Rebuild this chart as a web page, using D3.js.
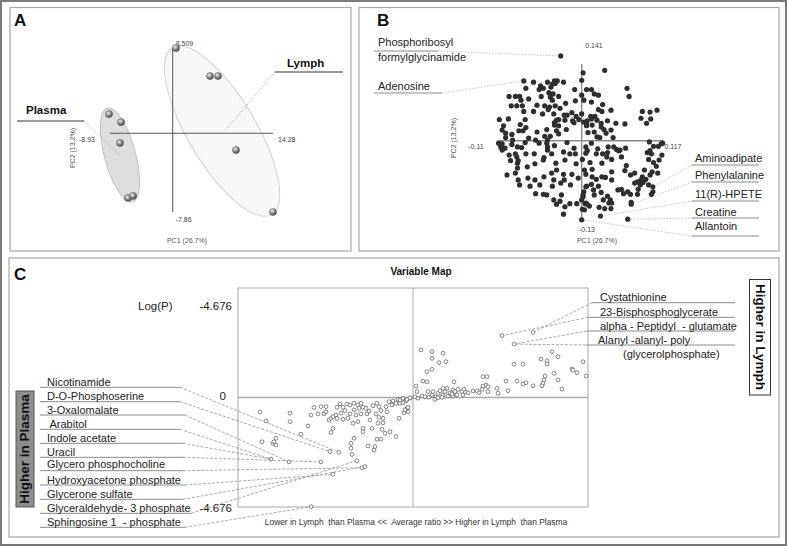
<!DOCTYPE html>
<html><head><meta charset="utf-8">
<script src="https://cdn.jsdelivr.net/npm/d3@7"></script>
<style>body{margin:0;background:#fff} svg{display:block} text{font-family:Arial,'Liberation Sans',sans-serif;white-space:pre}</style>
</head><body><svg id="c" width="787" height="546"></svg>
<script>
// ---------- Panel A : PCA scores ----------
const pcaGroup = ['Plasma','Plasma','Plasma','Plasma','Plasma','Lymph','Lymph','Lymph','Lymph','Lymph'];
const pcaPC1 = [-9.07,-7.36,-7.51,-6.37,-5.65,0.47,5.31,6.45,9.01,14.28];
const pcaPC2 = [1.92,1.12,-0.97,-6.46,-6.26,8.51,5.71,5.71,-1.67,-7.86];
const pc1Range = [-8.93, 14.28];
const pc2Range = [-7.86, 8.509];
const groupNames = ['Plasma','Lymph'];
const groupCentrePC1 = [-7.51, 7.02];
const groupCentrePC2 = [-2.17, 0.22];

// ---------- Panel B : loadings (x1000) ----------
const loadRangeX = [-119.5, 117];
const loadRangeY = [-130, 123];
const loadTickText = ['0.141','-0.11','0.117','-0.13'];
const loadings = [
[-30,136],[33,113],[2,109],[0,97],
[-83,96],[-69,94],[-49,94],[-39,96],[-35,96],[-26,94],
[-59,88],[-42,91],[-38,92],
[-80,84],[-61,82],[-55,84],[-44,86],[-10,82],[7,82],[14,82],[65,84],
[-47,77],[-41,75],
[-104,71],[-95,71],[-89,71],[-76,67],[-58,71],[-45,70],[-33,71],[0,73],[18,75],[24,73],[68,71],
[-87,65],[-42,65],
[-101,56],[-93,56],[-85,56],[-64,57],[-53,56],[-38,56],[-46,54],[-23,60],[-9,64],[3,65],[14,62],
[-48,50],[-31,52],[30,58],[42,49],
[-83,47],[-69,47],[-21,41],[-14,45],[24,50],[29,47],[87,47],[98,46],[108,49],
[-56,43],[-40,43],[-25,41],[-8,39],[0,43],[13,39],[19,39],[85,36],[99,35],
[-118,34],[-105,35],[-81,34],[-36,33],[-33,34],[-24,33],[-13,32],[-4,34],[8,32],[14,35],[22,33],[37,32],
[-39,29],[-11,29],[3,30],[7,27],[28,28],[49,28],[62,27],[93,28],
[-112,24],[-88,26],[-80,21],[-39,25],[-33,24],[7,24],[15,25],[28,22],[32,18],[42,17],
[-114,17],[-90,16],[-84,16],[-64,14],[-50,18],[-36,16],[-22,18],[9,13],[18,14],[22,6],
[-109,12],[-100,10],[-45,7],[-33,11],[35,12],[45,5],
[-109,5],[-99,1],[-76,4],[-66,1],[-53,7],[-49,1],[26,5],[97,-2],[114,-5],[110,-9],
[-119,-4],[-114,-5],[-100,-6],[-92,-10],[-81,-3],[-61,-4],[-50,-4],[-39,-8],[-21,-3],[14,-4],[38,-10],[46,-10],[53,-16],[63,-12],[103,-9],[116,-4],
[-116,-10],[-110,-12],[-86,-11],[-49,-10],[-11,-12],[6,-10],[8,-16],[23,-13],[50,-14],[55,-15],
[-114,-15],[-49,-15],[-26,-18],[37,-19],[98,-16],
[-104,-23],[-95,-21],[-80,-21],[-68,-21],[-43,-21],[-17,-21],[-9,-21],[6,-20],[21,-21],[30,-21],[36,-26],[94,-19],[100,-21],[115,-23],
[-102,-32],[-93,-26],[-91,-32],[-54,-27],[-24,-31],[1,-30],[43,-30],[57,-26],[111,-31],[103,-35],[96,-30],
[-92,-36],[-67,-37],[-55,-31],[-37,-36],[-8,-37],[12,-35],[29,-36],[64,-40],[107,-41],
[-92,-44],[-78,-42],[-43,-52],[-26,-54],[4,-47],[15,-46],[62,-48],[90,-47],[101,-50],
[-95,-52],[-36,-47],[-14,-54],[6,-54],[43,-50],[76,-52],
[-107,-55],[-77,-60],[-67,-63],[-54,-58],[-40,-63],[-25,-63],[15,-58],[29,-58],[34,-59],[70,-55],[98,-55],[109,-52],[87,-58],[85,-63],[92,-62],[80,-66],
[-91,-63],[-5,-60],[21,-62],[43,-63],
[-89,-71],[-74,-73],[-60,-71],[-42,-73],[-30,-68],[-16,-71],[7,-73],[14,-70],[24,-73],[76,-68],[84,-71],[88,-67],[96,-71],[102,-74],
[-66,-85],[-55,-86],[-29,-87],[3,-82],[6,-74],[2,-90],[17,-79],[28,-83],[52,-79],[57,-78],[66,-82],[81,-78],[80,-86],[102,-82],[100,-86],
[-50,-87],[-40,-95],[-31,-97],[-17,-101],[0,-95],[2,-87],[6,-100],[11,-105],[18,-87],[37,-89],[41,-95],[60,-85],[43,-100],[70,-86],
[-36,-102],[-24,-106],[-7,-101],[5,-101],[8,-102],[31,-95],[39,-100],[71,-99],[71,-102],
[-26,-118],[25,-107],[33,-109],[42,-109],[4,-111],[1,-110],
[27,-121],[66,-126],
[0,-127]
];
const loadLabelNames = [['Phosphoribosyl','formylglycinamide'],['Adenosine'],['Aminoadipate'],['Phenylalanine'],['11(R)-HPETE'],['Creatine'],['Allantoin']];
const loadLabelTargets = [[-30,136],[-83,96],[102,-74],[71,-102],[27,-121],[66,-126],[0,-127]];

// ---------- Panel C : variable map ----------
const vmRatioRange = [-175, 175];
const vmLogPRange = [-4.676, 4.676];
const vmTickText = ['-4.676','0','-4.676'];
const vmPoints = [
[-153,-0.62],[-147,-1.00],[-123,-0.67],[-123,-1.03],[-105,-1.22],[-112,-1.57],
[-151,-1.89],[-140,-1.96],[-139,-1.89],[-137,-1.74],[-137,-2.03],
[-142,-2.63],[-124,-2.75],[-92,-2.75],
[-102,-0.75],[-99,-0.42],[-92,-0.39],[-87,-0.39],[-95,-0.70],[-89,-0.70],[-87,-0.61],
[-84,-0.96],[-82,-0.89],[-80,-0.82],[-77,-0.75],[-76,-0.42],[-73,-0.28],[-70,-0.42],[-66,-0.28],[-68,-0.56],[-72,-0.67],[-76,-0.89],[-70,-0.93],[-65,-0.89],[-60,-1.10],[-80,-1.32],[-82,-1.49],[-83,-2.31],[-74,-2.34],
[-63,-0.32],[-59,-0.25],[-55,-0.32],[-52,-0.25],[-54,-0.46],[-50,-0.42],[-59,-0.53],[-63,-0.70],[-57,-0.75],[-52,-0.70],[-55,-1.03],[-50,-1.32],[-50,-1.46],[-41,-1.32],[-43,-0.96],[-46,-0.70],[-44,-0.58],[-47,-0.46],[-40,-0.35],[-36,-0.25],[-34,-0.39],[-32,-0.56],[-37,-0.70],[-34,-0.85],[-30,-0.89],[-35,-1.10],[-30,-1.08],[-31,-1.36],[-23,-1.46],[-17,-1.67],[-28,-1.53],[-26,-0.61],[-27,-0.39],[-24,-0.18],[-20,-0.15],[-17,-0.25],[-15,-0.08],[-11,-0.11],[-13,-0.25],[-10,-0.22],[-7,-0.14],[-3,-0.03],[-6,-0.46],[-9,-0.65],[-14,-0.89],[-5,-0.61],[-21,-0.32],
[-59,-1.74],[-62,-1.96],[-62,-2.17],[-61,-2.43],[-56,-2.70],[-36,-1.78],[-32,-1.78],[-38,-2.10],[-39,-2.24],[-45,-2.07],[-51,-3.00],[-48,-2.95],[-80,-3.28],[-102,-4.66],
[89,2.64],[120,2.78],[101,2.28],[8,2.03],[19,1.96],[30,1.89],[19,1.67],[26,1.49],[33,1.53],[14,1.10],[19,1.20],[10,0.70],[14,0.67],[41,0.67],[3,0.49],[4,0.25],[70,0.89],[74,0.89],[101,1.42],[110,1.42],[128,1.64],[134,1.57],[134,1.43],[139,1.96],[145,1.74],[170,1.53],[159,1.22],[160,1.17],[164,1.06],[132,0.92],[131,0.75],[130,0.61],[141,1.03],[145,0.75],[129,0.50],[93,0.70],[104,0.70],[110,0.58],[113,0.63],[120,0.50],[95,0.29],[149,0.36],[173,0.92],[84,0.39],[85,0.18],[73,0.53],[75,0.46],[69,0.35],[70,0.49],[64,0.29],[66,0.20],[75,0.25],[60,0.28],[55,0.20],[52,0.25],
[2,0.03],[5,-0.03],[9,0.06],[12,0.03],[15,0.25],[19,0.11],[20,0.25],[23,0.03],[25,0.18],[27,0.29],[30,0.11],[32,0.25],[34,0.39],[35,0.06],[37,0.20],[40,0.32],[42,0.25],[44,0.11],[45,0.35],[49,0.25],[51,0.35],[50,0.11],[40,0.06],[29,0.01],[22,-0.08],[16,0.01],[30,0.39],[25,-0.01],[39,0.15],
[-13,-0.11],[-10,-0.03],[-6,-0.08],[-3,-0.01],[-5,-0.42],[-8,-0.53]
];
const plasmaNames = ['Nicotinamide','D-O-Phosphoserine','3-Oxalomalate',' Arabitol','Indole acetate','Uracil','Glycero phosphocholine','Hydroxyacetone phosphate','Glycerone sulfate','Glyceraldehyde- 3 phosphate','Sphingosine 1  - phosphate'];
const plasmaTargets = [[-74,-2.34],[-83,-2.31],[-124,-2.75],[-142,-2.63],[-142,-2.63],[-92,-2.75],[-51,-3.00],[-80,-3.28],[-48,-2.95],[-56,-2.70],[-102,-4.66]];
const lymphNames = ['Cystathionine','23-Bisphosphoglycerate','alpha - Peptidyl  - glutamate','Alanyl -alanyl- poly'];
const lymphTargets = [[120,2.78],[89,2.64],[101,2.28],[101,2.28]];

// ================= drawing =================
const svg = d3.select('#c');
svg.append('rect').attr('x',1).attr('y',1).attr('width',785).attr('height',544).attr('fill','#fff').attr('stroke','#7a7a7a').attr('stroke-width',2);
[[10,7.5,341,243.5],[359,7.5,420,243.5],[9,258,770,279]].forEach(b=>{
  svg.append('rect').attr('x',b[0]).attr('y',b[1]).attr('width',b[2]).attr('height',b[3]).attr('fill','none').attr('stroke','#a8a8a8').attr('stroke-width',1.2);
});
function txt(g,x,y,s,o={}){
  const t=g.append('text').attr('x',x).attr('y',y).text(s).attr('font-size',o.size||11)
   .attr('fill',o.fill||'#222').attr('dominant-baseline','middle').attr('text-anchor',o.anchor||'start');
  if(o.bold) t.attr('font-weight','bold');
  if(o.rotate!=null) t.attr('transform',`rotate(${o.rotate},${x},${y})`);
  return t;
}
txt(svg,14,22,'A',{size:17,bold:true,fill:'#111'});
txt(svg,377,22,'B',{size:17,bold:true,fill:'#111'});
txt(svg,14,276,'C',{size:17,bold:true,fill:'#111'});

// ----- Panel A -----
const gA = svg.append('g');
const xA = d3.scaleLinear().domain(pc1Range).range([110,273]);
const yA = d3.scaleLinear().domain(pc2Range).range([212,48]);
const defs = svg.append('defs');
const rg = defs.append('radialGradient').attr('id','ball').attr('cx','38%').attr('cy','35%').attr('r','65%');
rg.append('stop').attr('offset','0%').attr('stop-color','#eeeeee');
rg.append('stop').attr('offset','55%').attr('stop-color','#8c8c8c');
rg.append('stop').attr('offset','100%').attr('stop-color','#4a4a4a');
const ellStyle = {Plasma:{rx:15.5,ry:48.5,rot:-15,fill:'#dedede',stroke:'#c0c0c0'}, Lymph:{rx:34,ry:97,rot:-30.8,fill:'#f8f8f8',stroke:'#d2d2d2'}};
groupNames.forEach((g,i)=>{
  const s=ellStyle[g], cx=xA(groupCentrePC1[i]), cy=yA(groupCentrePC2[i]);
  gA.append('ellipse').attr('cx',0).attr('cy',0).attr('rx',s.rx).attr('ry',s.ry)
    .attr('transform',`translate(${cx},${cy}) rotate(${s.rot})`)
    .attr('fill',s.fill).attr('stroke',s.stroke).attr('stroke-width',1);
});
gA.append('line').attr('x1',xA(0)).attr('x2',xA(0)).attr('y1',yA(pc2Range[0])).attr('y2',yA(pc2Range[1])).attr('stroke','#555').attr('stroke-width',1);
gA.append('line').attr('x1',xA(pc1Range[0])).attr('x2',xA(pc1Range[1])).attr('y1',yA(0)).attr('y2',yA(0)).attr('stroke','#555').attr('stroke-width',1);
txt(gA,xA(0)+3,yA(pc2Range[1])-4,String(pc2Range[1]),{size:7,fill:'#444'});
txt(gA,xA(0)+3,yA(pc2Range[0])+8,String(pc2Range[0]),{size:7,fill:'#444'});
txt(gA,xA(pc1Range[0])-15,yA(0)+7,String(pc1Range[0]),{size:7,fill:'#444',anchor:'end'});
txt(gA,xA(pc1Range[1])+5,yA(0)+7,String(pc1Range[1]),{size:7,fill:'#444'});
txt(gA,187,241,'PC1 (26.7%)',{size:7,fill:'#555',anchor:'middle'});
txt(gA,73,148,'PC2 (13.2%)',{size:7,fill:'#555',anchor:'middle',rotate:-90});
const aLab = {Plasma:{tx:26,ty:111,l1:17,l2:84,ly:121}, Lymph:{tx:287,ty:64,l1:275,l2:343,ly:72}};
groupNames.forEach((g,i)=>{
  const L=aLab[g];
  gA.append('line').attr('x1',L.l1).attr('x2',L.l2).attr('y1',L.ly).attr('y2',L.ly).attr('stroke','#9a9a9a').attr('stroke-width',2);
  const sx = g==='Plasma'?L.l2:L.l1;
  gA.append('line').attr('x1',sx).attr('y1',L.ly).attr('x2',xA(groupCentrePC1[i])+(g==='Lymph'?3:1)).attr('y2',yA(groupCentrePC2[i])+(g==='Lymph'?0:1))
    .attr('stroke','#999').attr('stroke-width',0.7).attr('stroke-dasharray','1.5,1.5');
  txt(gA,L.tx,L.ty,g,{size:11.5,bold:true,fill:'#111'});
});
gA.selectAll('circle.s').data(pcaPC1).join('circle').attr('class','s')
  .attr('cx',(d)=>xA(d)).attr('cy',(d,i)=>yA(pcaPC2[i])).attr('r',3.6)
  .attr('fill','url(#ball)').attr('stroke','#555').attr('stroke-width',0.4);

// ----- Panel B -----
const gB = svg.append('g');
const xB = d3.scaleLinear().domain(loadRangeX).range([498.3,663.3]);
const yB = d3.scaleLinear().domain([-130,0]).range([221.7,140.7]);
gB.append('line').attr('x1',xB(0)).attr('x2',xB(0)).attr('y1',yB(loadRangeY[0])).attr('y2',yB(loadRangeY[1])).attr('stroke','#8a8a8a').attr('stroke-width',1.4);
gB.append('line').attr('x1',xB(loadRangeX[0])).attr('x2',xB(loadRangeX[1])).attr('y1',yB(0)).attr('y2',yB(0)).attr('stroke','#8a8a8a').attr('stroke-width',1.4);
txt(gB,594,46,loadTickText[0],{size:7,fill:'#444',anchor:'middle'});
txt(gB,476,147,loadTickText[1],{size:7,fill:'#444',anchor:'middle'});
txt(gB,673,147,loadTickText[2],{size:7,fill:'#444',anchor:'middle'});
txt(gB,587,230,loadTickText[3],{size:7,fill:'#444',anchor:'middle'});
txt(gB,597,241,'PC1 (26.7%)',{size:7,fill:'#555',anchor:'middle'});
txt(gB,454,138,'PC2 (13.2%)',{size:7,fill:'#555',anchor:'middle',rotate:-90});
const bLayout = [
 {tx:378,ty:[43,58],ly:51,l1:374,l2:438,side:'L'},
 {tx:378,ty:[87],ly:93,l1:374,l2:442,side:'L'},
 {tx:695,ty:[159],ly:165,l1:692,l2:759,side:'R'},
 {tx:695,ty:[176],ly:182,l1:692,l2:759,side:'R'},
 {tx:695,ty:[195],ly:201,l1:692,l2:759,side:'R'},
 {tx:695,ty:[213],ly:218,l1:692,l2:759,side:'R'},
 {tx:695,ty:[227],ly:236,l1:692,l2:759,side:'R'}
];
loadLabelNames.forEach((nm,i)=>{
  const L=bLayout[i], t=loadLabelTargets[i];
  gB.append('line').attr('x1',L.l1).attr('x2',L.l2).attr('y1',L.ly).attr('y2',L.ly).attr('stroke','#8a8a8a').attr('stroke-width',1);
  const sx = L.side==='L'?L.l2:L.l1;
  gB.append('line').attr('x1',sx).attr('y1',L.ly).attr('x2',xB(t[0])).attr('y2',yB(t[1]))
    .attr('stroke','#aaa').attr('stroke-width',0.7).attr('stroke-dasharray','1.5,1.5');
  nm.forEach((s,k)=>txt(gB,L.tx,L.ty[k],s,{size:11,fill:'#222'}));
});
gB.selectAll('circle.l').data(loadings).join('circle').attr('class','l')
  .attr('cx',d=>xB(d[0])).attr('cy',d=>yB(d[1])).attr('r',2.6).attr('fill','#2e2e2e');

// ----- Panel C -----
const gC = svg.append('g');
txt(gC,421,272,'Variable Map',{size:10,bold:true,fill:'#111',anchor:'middle'});
const xC = d3.scaleLinear().domain(vmRatioRange).range([238,588]);
const yC = d3.scaleLinear().domain(vmLogPRange).range([507,288]);
gC.append('rect').attr('x',xC(vmRatioRange[0])).attr('y',yC(vmLogPRange[1])).attr('width',xC(vmRatioRange[1])-xC(vmRatioRange[0])).attr('height',yC(vmLogPRange[0])-yC(vmLogPRange[1]))
  .attr('fill','none').attr('stroke','#aaa').attr('stroke-width',1);
gC.append('line').attr('x1',xC(0)).attr('x2',xC(0)).attr('y1',yC(vmLogPRange[0])).attr('y2',yC(vmLogPRange[1])).attr('stroke','#aaa').attr('stroke-width',1);
gC.append('line').attr('x1',xC(vmRatioRange[0])).attr('x2',xC(vmRatioRange[1])).attr('y1',yC(0)).attr('y2',yC(0)).attr('stroke','#aaa').attr('stroke-width',1.4);
txt(gC,138,307,'Log(P)',{size:11.5,fill:'#222'});
txt(gC,232,307,vmTickText[0],{size:11.5,fill:'#222',anchor:'end'});
txt(gC,226,397,vmTickText[1],{size:11.5,fill:'#222',anchor:'end'});
txt(gC,232,509,vmTickText[2],{size:11.5,fill:'#222',anchor:'end'});
txt(gC,416,523,'Lower in Lymph  than Plasma <<  Average ratio >> Higher in Lymph  than Plasma',{size:8.4,fill:'#333',anchor:'middle'});
const pTy=[382.7,396.7,410.7,425,439,452.7,465.5,481,495.3,509.3,523.3];
const pLy=[387.3,401.7,415,429.3,443.3,457.3,470.7,485,499.3,513.3,527.3];
const pLx2=[180,180,185,180,183,183,183,185,183,191,185];
plasmaNames.forEach((nm,i)=>{
  const t=plasmaTargets[i];
  gC.append('line').attr('x1',40).attr('x2',pLx2[i]).attr('y1',pLy[i]).attr('y2',pLy[i]).attr('stroke','#8a8a8a').attr('stroke-width',1);
  gC.append('line').attr('x1',pLx2[i]).attr('y1',pLy[i]).attr('x2',xC(t[0])).attr('y2',yC(t[1]))
    .attr('stroke','#888').attr('stroke-width',0.7).attr('stroke-dasharray','3,1.5');
  txt(gC,47,pTy[i],nm,{size:11,fill:'#222'});
});
const lTy=[298.3,312.7,326.7,340.7];
const lLy=[302.7,317.3,331,345];
const lLx1=[592,588,587,586];
lymphNames.forEach((nm,i)=>{
  const t=lymphTargets[i];
  gC.append('line').attr('x1',lLx1[i]).attr('x2',735).attr('y1',lLy[i]).attr('y2',lLy[i]).attr('stroke','#8a8a8a').attr('stroke-width',1);
  gC.append('line').attr('x1',lLx1[i]).attr('y1',lLy[i]).attr('x2',xC(t[0])).attr('y2',yC(t[1]))
    .attr('stroke','#888').attr('stroke-width',0.7).attr('stroke-dasharray','3,1.5');
  txt(gC,i===3?598:600,lTy[i],nm,{size:11,fill:'#222'});
});
txt(gC,623,355,'(glycerolphosphate)',{size:11,fill:'#222'});
gC.selectAll('circle.v').data(vmPoints).join('circle').attr('class','v')
  .attr('cx',d=>xC(d[0])).attr('cy',d=>yC(d[1])).attr('r',1.9)
  .attr('fill','#fff').attr('stroke','#555').attr('stroke-width',0.7);
gC.append('rect').attr('x',749.5).attr('y',279.5).attr('width',21).attr('height',115.5).attr('fill','#fff').attr('stroke','#333').attr('stroke-width',1);
txt(gC,760,337,'Higher in Lymph',{size:13.5,bold:true,fill:'#111',anchor:'middle',rotate:90});
gC.append('rect').attr('x',16).attr('y',391).attr('width',18).attr('height',116).attr('fill','#8e8e8e').attr('stroke','#555').attr('stroke-width',1);
txt(gC,25,449,'Higher in Plasma',{size:13.5,bold:true,fill:'#111',anchor:'middle',rotate:-90});
</script></body></html>
